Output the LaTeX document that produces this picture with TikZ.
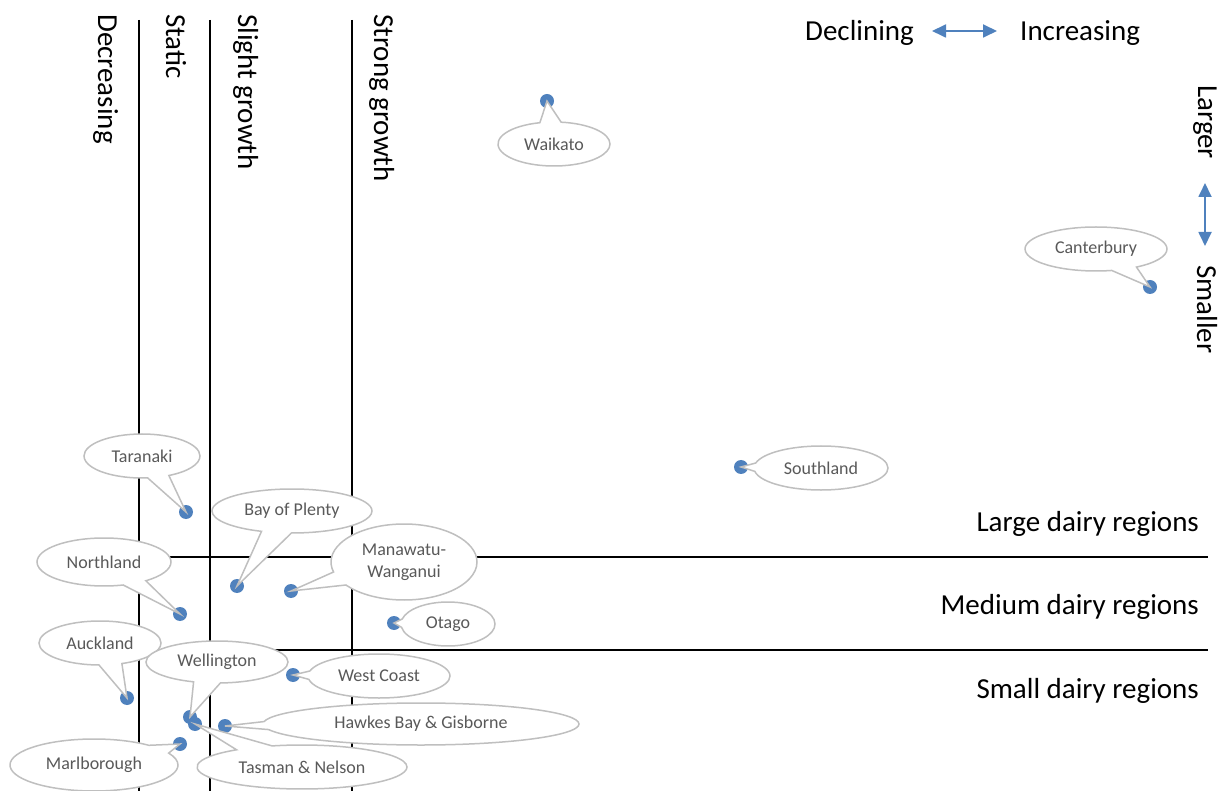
\documentclass[tikz,border=0pt]{standalone}
\usepackage{fontspec}
\setmainfont{Carlito}
\usetikzlibrary{shapes.callouts,arrows.meta}
\definecolor{dotblue}{HTML}{4F81BD}
\definecolor{callgray}{HTML}{BFBFBF}
\definecolor{txtgray}{HTML}{595959}
\begin{document}
\begin{tikzpicture}[x=1pt,y=-1pt,
  divider/.style={line width=2pt, black},
  region/.style={circle, fill=dotblue, inner sep=0pt, minimum size=14pt},
  call/.style={ellipse callout, draw=callgray, line width=1.5pt, fill=white, text=txtgray,
    font=\fontsize{18}{22}\selectfont, inner sep=0pt, callout pointer arc=22, align=center},
  lbl/.style={font=\fontsize{29}{34}\selectfont, inner sep=0pt},
  dblarrow/.style={draw=dotblue, line width=1.8pt, {Triangle[length=14pt,width=13pt]}-{Triangle[length=14pt,width=13pt]}}
]
\useasboundingbox (0,0) rectangle (1224,791);
% dividers
\draw[divider] (139,20) -- (139,791);
\draw[divider] (210,20) -- (210,791);
\draw[divider] (352,20) -- (352,791);
\draw[divider] (139,557) -- (1208,557);
\draw[divider] (139,650) -- (1208,650);
% column labels
\node[lbl, rotate=-90, anchor=base west] (ldec) at (98,14) {Decreasing};
\node[lbl, rotate=-90, anchor=base west] (lsta) at (166,14) {Static};
\node[lbl, rotate=-90, anchor=base west] (lsli) at (238,14) {Slight growth};
\node[lbl, rotate=-90, anchor=base west] (lstr) at (374,14) {Strong growth};
% row labels
\node[lbl, anchor=base east] (llar) at (1199,531) {Large dairy regions};
\node[lbl, anchor=base east] (lmed) at (1199,614) {Medium dairy regions};
\node[lbl, anchor=base east] (lsma) at (1199,698) {Small dairy regions};
% legend
\node[lbl, anchor=base west] (ldcl) at (805,41) {Declining};
\node[lbl, anchor=base west] (linc) at (1020,41) {Increasing};
\coordinate (ha) at (932,31);
\coordinate (hb) at (997,31);
\draw[dblarrow] (ha) -- (hb);
\node[lbl, rotate=-90, anchor=base west] (llrg) at (1198,85) {Larger};
\node[lbl, rotate=-90, anchor=base west] (lsml) at (1197,265) {Smaller};
\coordinate (va) at (1205,183);
\coordinate (vb) at (1205,246);
\draw[dblarrow] (va) -- (vb);
% dots
\node[region] (waikato) at (547,101) {};
\node[region] (canterbury) at (1150,287) {};
\node[region] (southland) at (741,467) {};
\node[region] (taranaki) at (186,512) {};
\node[region] (bop) at (237,586) {};
\node[region] (manawatu) at (291,591) {};
\node[region] (northland) at (180,614) {};
\node[region] (otago) at (394,623) {};
\node[region] (westcoast) at (293,675) {};
\node[region] (auckland) at (127,698) {};
\node[region] (wellington) at (190,717) {};
\node[region] (tasman) at (195,724) {};
\node[region] (hawkes) at (225,726) {};
\node[region] (marlborough) at (180,744) {};
% callouts
\node[call, minimum width=112pt, minimum height=44pt, callout absolute pointer={(waikato.center)}] (cwai) at (554,144) {Waikato};
\node[call, minimum width=142pt, minimum height=44pt, callout absolute pointer={(canterbury.center)}] (ccan) at (1096,249) {Canterbury};
\node[call, minimum width=134pt, minimum height=44pt, callout absolute pointer={(southland.center)}] (csou) at (821,468) {Southland};
\node[call, minimum width=116pt, minimum height=44pt, callout absolute pointer={(taranaki.center)}] (ctar) at (142,456) {Taranaki};
\node[call, minimum width=160pt, minimum height=44pt, callout absolute pointer={(bop.center)}] (cbop) at (292,511) {Bay of Plenty};
\node[call, minimum width=146pt, minimum height=76pt, callout absolute pointer={(manawatu.center)}] (cman) at (404,562) {Manawatu-\\Wanganui};
\node[call, minimum width=134pt, minimum height=48pt, callout absolute pointer={(northland.center)}] (cnor) at (104,562) {Northland};
\node[call, minimum width=94pt, minimum height=44pt, callout absolute pointer={(otago.center)}] (cota) at (448,624) {Otago};
\node[call, minimum width=142pt, minimum height=44pt, callout absolute pointer={(westcoast.center)}] (cwes) at (379,676) {West Coast};
\node[call, minimum width=122pt, minimum height=44pt, callout absolute pointer={(auckland.center)}] (cauc) at (100,643) {Auckland};
\node[call, minimum width=142pt, minimum height=42pt, callout absolute pointer={(wellington.center)}] (cwel) at (217,662) {Wellington};
\node[call, minimum width=316pt, minimum height=42pt, callout absolute pointer={(hawkes.center)}] (chaw) at (421,724) {Hawkes Bay \& Gisborne};
\node[call, minimum width=210pt, minimum height=44pt, callout absolute pointer={(tasman.center)}] (ctas) at (302,767) {Tasman \& Nelson};
\node[call, minimum width=168pt, minimum height=52pt, callout absolute pointer={(marlborough.center)}] (cmar) at (94,765) {Marlborough};
\end{tikzpicture}
\end{document}
